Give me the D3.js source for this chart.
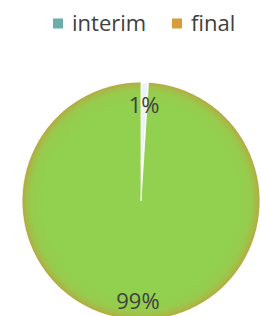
<!DOCTYPE html>
<html>
<head>
<meta charset="utf-8">
<script src="https://cdn.jsdelivr.net/npm/d3@7"></script>
<style>
  html, body { margin: 0; padding: 0; background: #fff; }
  svg { display: block; }
  text { font-family: "Open Sans", "Noto Sans", sans-serif; fill: #404040; }
</style>
</head>
<body>
<svg id="chart" width="261" height="316"></svg>
<script>
const categories = ["interim", "final"];
const values = [1, 99];
const legendColors = ["#6aaea9", "#d89c3a"];
const labels = ["1%", "99%"];

const width = 261, height = 316;
const cx = 141, cy = 201, radius = 119;
const svg = d3.select("#chart");

const defs = svg.append("defs");
const g1 = defs.append("radialGradient").attr("id", "gFinal")
  .attr("gradientUnits", "userSpaceOnUse").attr("cx", 0).attr("cy", 0).attr("r", radius);
[["0%", "#92d050"], ["82%", "#92d050"], ["92%", "#97cc4d"], ["97%", "#a5bc47"], ["100%", "#b8a542"]]
  .forEach(([o, c]) => g1.append("stop").attr("offset", o).attr("stop-color", c));

const sliceFill = ["#eaf2f6", "url(#gFinal)"];

const pie = d3.pie().sort(null).value(d => d);
const arcs = pie(values);
const arc = d3.arc().innerRadius(0).outerRadius(radius);
const labelArc = d3.arc().innerRadius(98).outerRadius(98);

const gp = svg.append("g").attr("transform", `translate(${cx},${cy})`);
gp.selectAll("path.slice").data(arcs).enter().append("path")
  .attr("class", "slice")
  .attr("d", arc)
  .attr("fill", (d, i) => sliceFill[i])
  .attr("stroke", "#fff")
  .attr("stroke-width", (d, i) => i === 0 ? 2.2 : 0.8)
  .attr("stroke-linejoin", "round");

gp.selectAll("text.lbl").data(arcs).enter().append("text")
  .attr("class", "lbl")
  .attr("transform", d => `translate(${labelArc.centroid(d)})`)
  .attr("text-anchor", "middle")
  .attr("dy", "0.45em")
  .style("font-size", "22px")
  .text((d, i) => labels[i]);

// legend
const legendX = [53, 172];
const lg = svg.append("g");
categories.forEach((c, i) => {
  lg.append("rect").attr("x", legendX[i]).attr("y", 18.5).attr("width", 10).attr("height", 10)
    .attr("fill", legendColors[i]);
  lg.append("text").attr("x", legendX[i] + 19).attr("y", 31)
    .style("font-size", "22px").text(c);
});
</script>
</body>
</html>
